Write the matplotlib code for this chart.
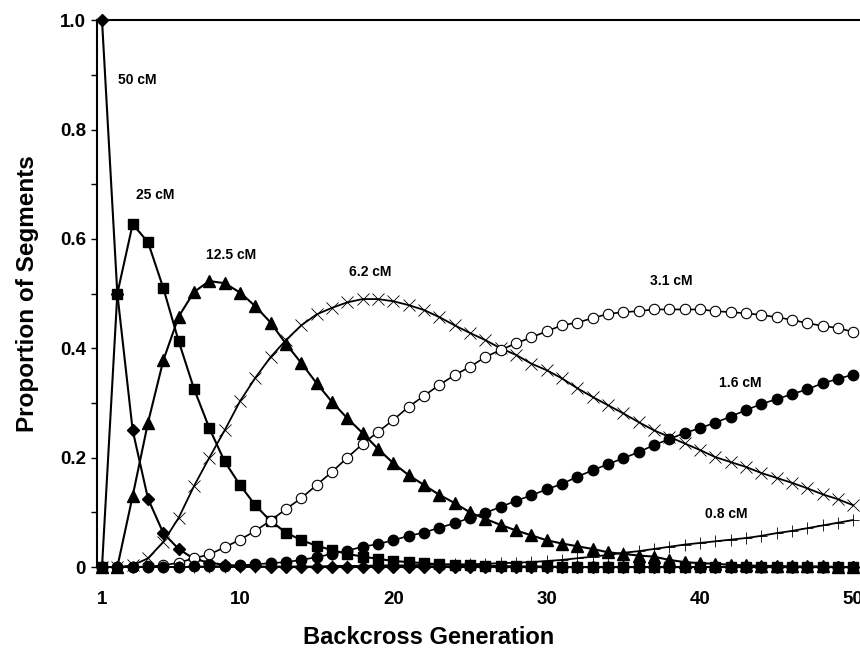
import matplotlib
matplotlib.use("Agg")
import matplotlib.pyplot as plt

plt.rcParams['font.family'] = ['Liberation Sans', 'DejaVu Sans']
plt.rcParams['font.weight'] = 'bold'

gen = list(range(1, 51))

# proportion of segments per backcross generation
cm50 = [1.0, 0.5, 0.25, 0.125, 0.062, 0.033, 0.015, 0.008, 0.004, 0.002,
        0.001, 0, 0, 0, 0, 0, 0, 0, 0, 0,
        0, 0, 0, 0, 0, 0, 0, 0, 0, 0,
        0, 0, 0, 0, 0, 0, 0, 0, 0, 0,
        0, 0, 0, 0, 0, 0, 0, 0, 0, 0]
cm25 = [0, 0.50, 0.627, 0.594, 0.51, 0.413, 0.326, 0.254, 0.193, 0.150,
        0.113, 0.084, 0.063, 0.049, 0.039, 0.031, 0.024, 0.019, 0.015, 0.011,
        0.009, 0.007, 0.005, 0.004, 0.003, 0.002, 0.002, 0.001, 0.001, 0.001,
        0, 0, 0, 0, 0, 0, 0, 0, 0, 0,
        0, 0, 0, 0, 0, 0, 0, 0, 0, 0]
cm12 = [0, 0, 0.13, 0.264, 0.378, 0.458, 0.503, 0.523, 0.519, 0.502,
        0.477, 0.447, 0.408, 0.373, 0.336, 0.302, 0.272, 0.245, 0.216, 0.19,
        0.168, 0.15, 0.132, 0.117, 0.10, 0.088, 0.077, 0.067, 0.058, 0.049,
        0.043, 0.038, 0.033, 0.027, 0.024, 0.021, 0.019, 0.013, 0.009, 0.007,
        0.006, 0.004, 0.003, 0.002, 0.002, 0.001, 0.001, 0.001, 0, 0]
cm62 = [0, 0, 0.003, 0.016, 0.046, 0.09, 0.148, 0.2, 0.25, 0.303,
        0.346, 0.384, 0.415, 0.442, 0.462, 0.474, 0.484, 0.49, 0.49, 0.486,
        0.479, 0.47, 0.457, 0.442, 0.428, 0.415, 0.40, 0.388, 0.372, 0.36,
        0.345, 0.327, 0.311, 0.296, 0.281, 0.265, 0.25, 0.238, 0.226, 0.214,
        0.201, 0.192, 0.183, 0.172, 0.163, 0.154, 0.144, 0.133, 0.124, 0.113]
cm31 = [0, 0, 0, 0.001, 0.003, 0.008, 0.016, 0.023, 0.036, 0.05,
        0.066, 0.085, 0.106, 0.126, 0.15, 0.174, 0.2, 0.225, 0.247, 0.269,
        0.293, 0.313, 0.333, 0.351, 0.366, 0.384, 0.397, 0.409, 0.42, 0.431,
        0.442, 0.447, 0.455, 0.463, 0.466, 0.468, 0.471, 0.471, 0.471, 0.471,
        0.468, 0.466, 0.464, 0.461, 0.457, 0.452, 0.446, 0.441, 0.437, 0.43]
cm16 = [0, 0, 0, 0, 0, 0, 0.001, 0.001, 0.002, 0.003,
        0.005, 0.007, 0.009, 0.013, 0.018, 0.024, 0.03, 0.037, 0.042, 0.049,
        0.057, 0.063, 0.072, 0.08, 0.09, 0.099, 0.11, 0.121, 0.131, 0.142,
        0.152, 0.165, 0.177, 0.188, 0.199, 0.21, 0.223, 0.234, 0.245, 0.254,
        0.264, 0.275, 0.287, 0.298, 0.307, 0.316, 0.325, 0.336, 0.344, 0.352]
cm08 = [0, 0, 0, 0, 0, 0, 0, 0, 0, 0,
        0, 0.001, 0.001, 0.001, 0.001, 0.002, 0.002, 0.002, 0.003, 0.003,
        0.003, 0.004, 0.004, 0.005, 0.005, 0.006, 0.007, 0.008, 0.009, 0.011,
        0.013, 0.016, 0.019, 0.022, 0.026, 0.029, 0.033, 0.037, 0.041, 0.044,
        0.047, 0.05, 0.053, 0.057, 0.062, 0.066, 0.071, 0.076, 0.081, 0.086]

labels = ['50 cM', '25 cM', '12.5 cM', '6.2 cM', '3.1 cM', '1.6 cM', '0.8 cM']
label_x = [3.3, 4.5, 9.4, 18.5, 38.1, 42.6, 41.7]
label_y = [0.89, 0.68, 0.57, 0.539, 0.523, 0.336, 0.097]

fig = plt.figure(figsize=(8.6, 6.51), dpi=100)
ax = fig.add_axes([0.1128, 0.129, 0.9, 0.84])

k = dict(color='black', clip_on=False)
ax.plot(gen, cm50, marker='D', ms=6.5, lw=1.5, mfc='black', mec='black', **k)
ax.plot(gen, cm25, marker='s', ms=7.5, lw=1.5, mfc='black', mec='black', **k)
ax.plot(gen, cm12, marker='^', ms=8, lw=1.5, mfc='black', mec='black', **k)
ax.plot(gen, cm62, marker='x', ms=8, mew=0.6, lw=1.3, **k)
ax.plot(gen, cm31, marker='o', ms=7.5, lw=1.2, mfc='white', mec='black', mew=0.8, **k)
ax.plot(gen, cm16, marker='o', ms=7.5, lw=1.2, mfc='black', mec='black', **k)
ax.plot(gen, cm08, marker='+', ms=9, mew=0.6, lw=1.3, **k)

for t, x, y in zip(labels, label_x, label_y):
    ax.text(x, y, t, ha='center', va='center', fontsize=10, fontweight='bold')

ax.set_xlim(0.674, 51.16)
ax.set_ylim(0, 1.0)

ax.set_xticks([1, 10, 20, 30, 40, 50])
ax.set_xticklabels(['1', '10', '20', '30', '40', '50'])
ax.set_yticks([0, 0.2, 0.4, 0.6, 0.8, 1.0])
ax.set_yticklabels(['0', '0.2', '0.4', '0.6', '0.8', '1.0'])
ax.set_yticks([0.1, 0.3, 0.5, 0.7, 0.9], minor=True)
ax.tick_params(axis='x', length=0, pad=17, labelsize=13.5)
ax.tick_params(axis='y', which='both', direction='out', length=4, width=1,
               pad=4, labelsize=13.5)

for s in ['bottom', 'right']:
    ax.spines[s].set_visible(False)
ax.spines['left'].set_linewidth(1.5)
ax.spines['top'].set_linewidth(1.5)

ax.set_ylabel('Proportion of Segments', fontsize=17.5, fontweight='bold')
ax.set_xlabel('Backcross Generation', fontsize=17, fontweight='bold')
ax.yaxis.set_label_coords(-0.075, 0.5)
ax.xaxis.set_label_coords(0.428, -0.108)

fig.savefig('out.png', dpi=100)
